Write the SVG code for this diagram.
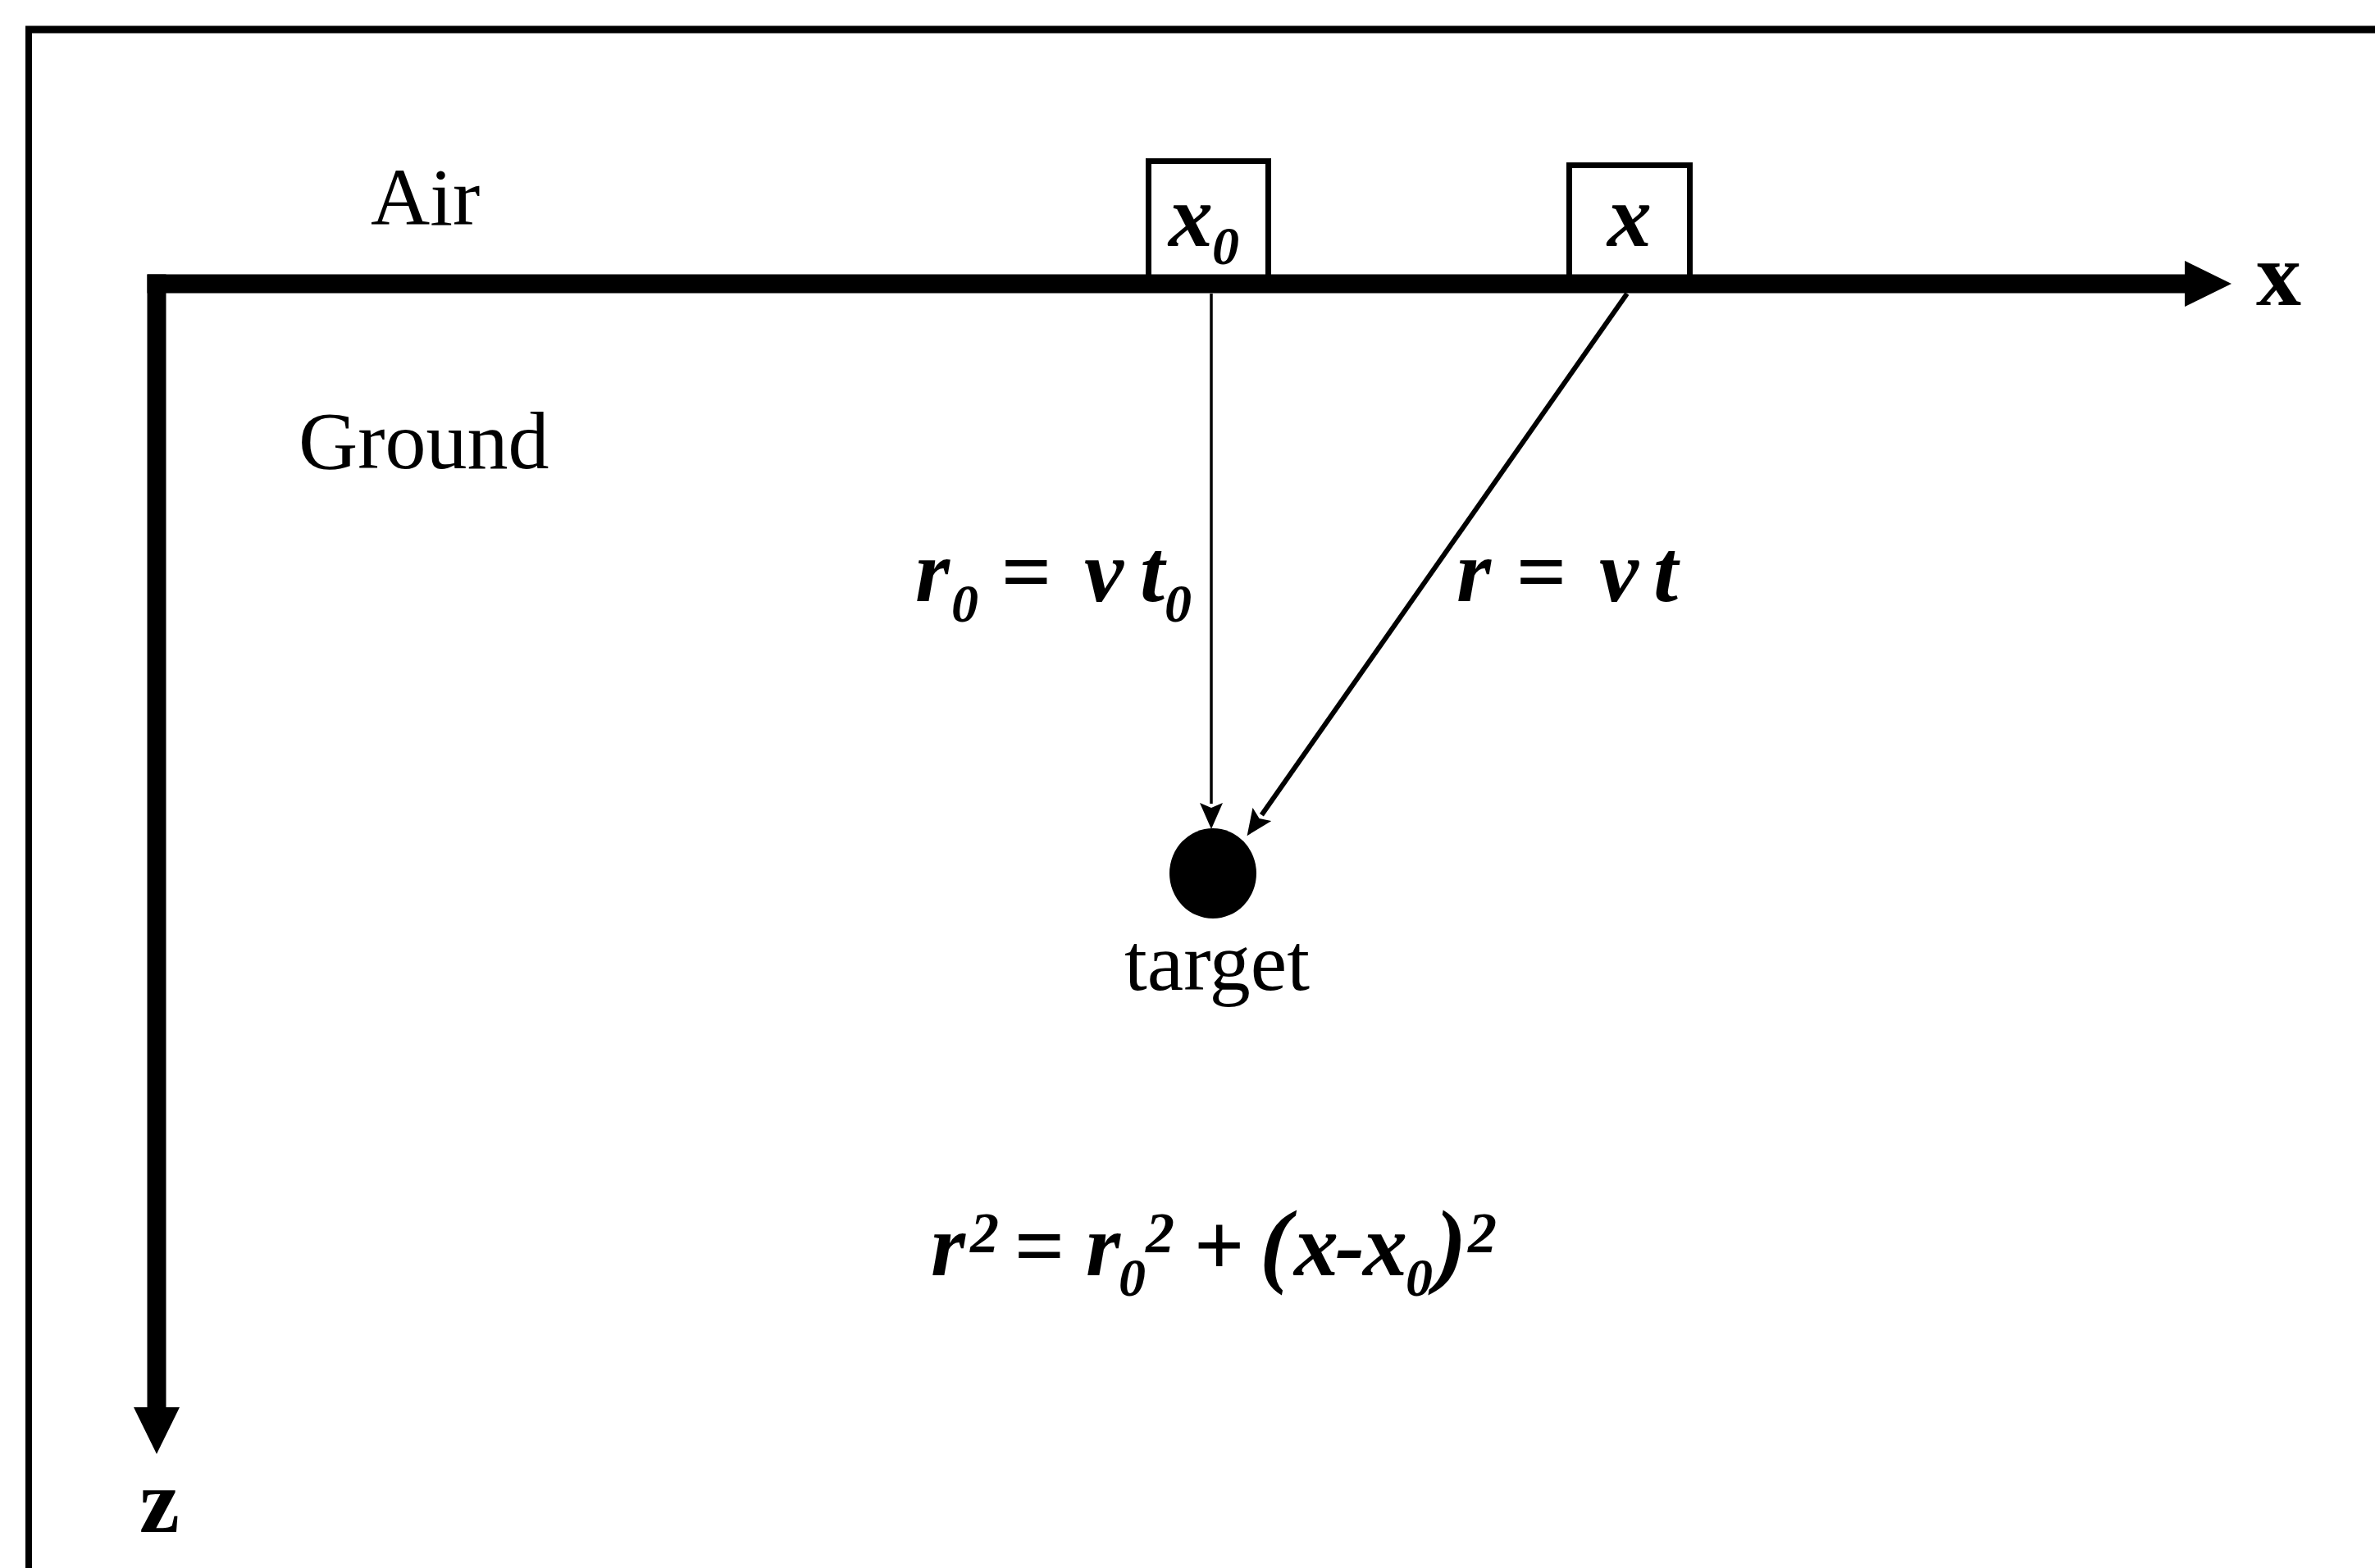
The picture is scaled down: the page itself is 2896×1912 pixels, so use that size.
<svg xmlns="http://www.w3.org/2000/svg" width="2896" height="1912" viewBox="0 0 2896 1912">
<style>
.txt{font-family:"Liberation Serif","Times New Roman",serif;font-size:100px;fill:#000}
.ax{font-family:"Liberation Serif","Times New Roman",serif;font-size:110px;font-weight:bold;fill:#000}
.m{font-family:"Liberation Serif","Times New Roman",serif;font-size:108px;font-weight:bold;font-style:italic;fill:#000}
.sub{font-size:66px}
.sup{font-size:70px}
.par{font-size:115px}
.frame{stroke:#000;fill:none}
.axis{stroke:#000;stroke-width:23;fill:none}
.box{stroke:#000;stroke-width:7;fill:none}
.thin{stroke:#000;stroke-width:3.5;fill:none}
.diag{stroke:#000;stroke-width:6;fill:none}
</style>
<defs>
<marker id="axhead" markerUnits="userSpaceOnUse" viewBox="0 0 57 56" markerWidth="57" markerHeight="56" refX="1" refY="28" orient="auto">
<path d="M0,0 L57,28 L0,56 z" fill="#000"/>
</marker>
<marker id="head" markerUnits="userSpaceOnUse" viewBox="0 0 32 28" markerWidth="32" markerHeight="28" refX="1" refY="14" orient="auto">
<path d="M0,0 L32,14 L0,28 L6,14 z" fill="#000"/>
</marker>
</defs>
<rect width="2896" height="1912" fill="#fff"/>
<g id="frame">
<line class="frame" x1="31" y1="36" x2="2896" y2="36" stroke-width="9"/>
<line class="frame" x1="35" y1="32" x2="35" y2="1912" stroke-width="8"/>
</g>
<g id="axes">
<path class="axis" d="M179.5,346 H2665" marker-end="url(#axhead)"/>
<path class="axis" d="M191,334.5 V1717" marker-end="url(#axhead)"/>
<text class="ax" x="2751" y="372">x</text>
<text class="ax" x="170" y="1868">z</text>
</g>
<g id="labels">
<text class="txt" x="452" y="274">Air</text>
<text class="txt" x="364" y="571">Ground</text>
</g>
<g id="node-x0">
<path class="box" d="M1400.5,336 V196.5 H1546.5 V336"/>
<text class="m" x="1425" y="300">x</text>
<text class="m sub" x="1478" y="322">0</text>
</g>
<g id="node-x">
<path class="box" d="M1913.5,336 V201.5 H2060.5 V336"/>
<text class="m" x="1960" y="300">x</text>
</g>
<g id="node-target">
<ellipse cx="1479" cy="1065" rx="53" ry="55" fill="#000"/>
<text class="txt" x="1484" y="1207" text-anchor="middle">target</text>
</g>
<g id="connectors">
<path class="thin" d="M1477,358 V980" marker-end="url(#head)"/>
<path class="diag" d="M1984,358 L1538.4,993.8" marker-end="url(#head)"/>
</g>
<g id="edge-labels">
<text class="m" y="733"><tspan x="1116">r</tspan><tspan class="sub" x="1160" y="758">0</tspan><tspan x="1220" y="733">=</tspan><tspan x="1322">v</tspan><tspan x="1390">t</tspan><tspan class="sub" x="1420" y="758">0</tspan></text>
<text class="m" y="733"><tspan x="1776">r</tspan><tspan x="1848">=</tspan><tspan x="1950">v</tspan><tspan x="2016">t</tspan></text>
</g>
<g id="equation">
<text class="m" y="1555"><tspan x="1135">r</tspan><tspan class="sup" x="1183" y="1527">2</tspan><tspan x="1236" y="1555">=</tspan><tspan x="1324">r</tspan><tspan class="sub" x="1364" y="1580">0</tspan><tspan class="sup" x="1397" y="1527">2</tspan><tspan x="1455" y="1555">+</tspan><tspan class="par" x="1536">(</tspan><tspan x="1578">x</tspan><tspan x="1628">-</tspan><tspan x="1662">x</tspan><tspan class="sub" x="1714" y="1580">0</tspan><tspan class="par" x="1750" y="1555">)</tspan><tspan class="sup" x="1790" y="1527">2</tspan></text>
</g>
</svg>
